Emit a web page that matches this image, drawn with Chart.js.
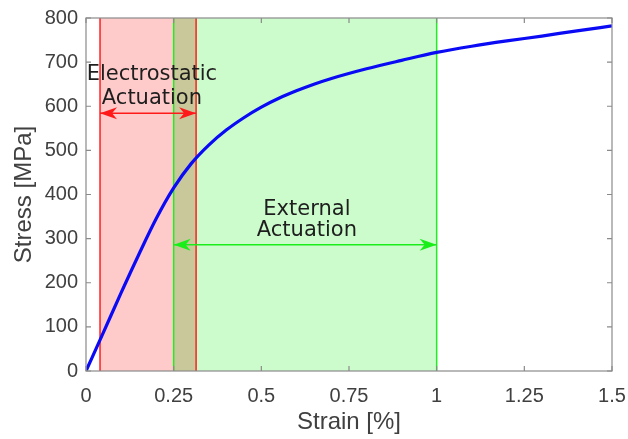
<!DOCTYPE html>
<html>
<head>
<meta charset="utf-8">
<script src="https://cdn.jsdelivr.net/npm/chart.js@4"></script>
<style>
  html, body { margin: 0; padding: 0; background: #fff; }
  #wrap { width: 628px; height: 439px; }
</style>
</head>
<body>
<div id="wrap"><canvas id="grafico"></canvas></div>
<script>
// data
const strain = [0, 0.05, 0.1, 0.15, 0.2, 0.25, 0.3, 0.35, 0.4, 0.45, 0.5, 0.55, 0.6, 0.65, 0.7, 0.8, 0.9, 1.0, 1.1, 1.2, 1.3, 1.4, 1.5];
const stress = [0, 88, 177, 263, 345, 415, 470, 512, 546, 574, 598, 618, 635, 650, 663, 685, 704, 722, 736, 748, 759, 771, 782];
const xTickValues = [0, 0.25, 0.5, 0.75, 1, 1.25, 1.5];
const xTickLabels = ["0", "0.25", "0.5", "0.75", "1", "1.25", "1.5"];
const yTickValues = [0, 100, 200, 300, 400, 500, 600, 700, 800];
const electroRange = [0.04, 0.314];
const externalRange = [0.25, 1.0];
const electroArrowStress = 584;
const externalArrowStress = 286;
const electroLabel = ["Electrostatic", "Actuation"];
const externalLabel = ["External", "Actuation"];

const annotFont = '21px "DejaVu Sans"';

function arrowHead(ctx, x, y, dir, color) {
    ctx.save();
    ctx.fillStyle = color;
    ctx.beginPath();
    ctx.moveTo(x, y);
    ctx.lineTo(x - dir * 17, y - 6);
    ctx.lineTo(x - dir * 12, y);
    ctx.lineTo(x - dir * 17, y + 6);
    ctx.closePath();
    ctx.fill();
    ctx.restore();
}

function doubleArrow(ctx, x1, x2, y, color) {
    ctx.save();
    ctx.strokeStyle = color;
    ctx.lineWidth = 1.5;
    ctx.beginPath();
    ctx.moveTo(x1, y);
    ctx.lineTo(x2, y);
    ctx.stroke();
    ctx.restore();
    arrowHead(ctx, x1, y, -1, color);
    arrowHead(ctx, x2, y, 1, color);
}

const zonas = {
    id: "zonas",
    beforeDatasetsDraw(chart) {
        const { ctx, chartArea: a, scales: { x, y } } = chart;
        const r1 = x.getPixelForValue(electroRange[0]);
        const r2 = x.getPixelForValue(electroRange[1]);
        const g1 = x.getPixelForValue(externalRange[0]);
        const g2 = x.getPixelForValue(externalRange[1]);
        ctx.save();
        ctx.fillStyle = "#ffcaca";
        ctx.fillRect(r1, a.top, r2 - r1, a.bottom - a.top);
        ctx.fillStyle = "#ccfccc";
        ctx.fillRect(g1, a.top, g2 - g1, a.bottom - a.top);
        ctx.fillStyle = "#c8c89a";
        ctx.fillRect(g1, a.top, r2 - g1, a.bottom - a.top);
        ctx.lineWidth = 1.5;
        ctx.strokeStyle = "#ff2020";
        [r1, r2].forEach(px => {
            ctx.beginPath(); ctx.moveTo(px, a.top); ctx.lineTo(px, a.bottom); ctx.stroke();
        });
        ctx.strokeStyle = "#20ee20";
        [g1, g2].forEach(px => {
            ctx.beginPath(); ctx.moveTo(px, a.top); ctx.lineTo(px, a.bottom); ctx.stroke();
        });
        ctx.restore();
    },
    afterDatasetsDraw(chart) {
        const { ctx, chartArea: a, scales: { x, y } } = chart;
        // caja y ticks hacia dentro, estilo matlab
        ctx.save();
        ctx.strokeStyle = "#8a8a8a";
        ctx.lineWidth = 1.2;
        ctx.strokeRect(a.left, a.top, a.right - a.left, a.bottom - a.top);
        ctx.beginPath();
        xTickValues.forEach(v => {
            const px = x.getPixelForValue(v);
            ctx.moveTo(px, a.bottom); ctx.lineTo(px, a.bottom - 5);
            ctx.moveTo(px, a.top); ctx.lineTo(px, a.top + 5);
        });
        yTickValues.forEach(v => {
            const py = y.getPixelForValue(v);
            ctx.moveTo(a.left, py); ctx.lineTo(a.left + 5, py);
            ctx.moveTo(a.right, py); ctx.lineTo(a.right - 5, py);
        });
        ctx.stroke();
        ctx.restore();

        doubleArrow(ctx, x.getPixelForValue(electroRange[0]), x.getPixelForValue(electroRange[1]),
            y.getPixelForValue(electroArrowStress), "#ff1a1a");
        doubleArrow(ctx, x.getPixelForValue(externalRange[0]), x.getPixelForValue(externalRange[1]),
            y.getPixelForValue(externalArrowStress), "#1aee1a");

        ctx.save();
        ctx.fillStyle = "#1e1e1e";
        ctx.font = annotFont;
        ctx.textAlign = "center";
        ctx.textBaseline = "middle";
        ctx.fillText(electroLabel[0], x.getPixelForValue(0.188), y.getPixelForValue(672));
        ctx.fillText(electroLabel[1], x.getPixelForValue(0.188), y.getPixelForValue(618));
        ctx.fillText(externalLabel[0], x.getPixelForValue(0.63), y.getPixelForValue(365));
        ctx.fillText(externalLabel[1], x.getPixelForValue(0.63), y.getPixelForValue(318));
        ctx.restore();
    }
};

const ctx = document.getElementById("grafico").getContext("2d");
new Chart(ctx, {
    type: "line",
    data: {
        datasets: [{
            label: "Stress",
            data: strain.map((s, i) => ({ x: s, y: stress[i] })),
            borderColor: "rgb(10, 10, 245)",
            borderWidth: 3.2,
            pointRadius: 0,
            fill: false,
            cubicInterpolationMode: "monotone",
        }],
    },
    options: {
        responsive: true,
        maintainAspectRatio: false,
        animation: false,
        layout: { padding: { top: 18, right: 16, left: 0, bottom: 0 } },
        plugins: { legend: { display: false }, tooltip: { enabled: false } },
        scales: {
            x: {
                type: "linear",
                min: 0,
                max: 1.5,
                afterBuildTicks(scale) {
                    scale.ticks = xTickValues.map(v => ({ value: v }));
                },
                afterFit(scale) {
                    scale.height = 68;
                    scale.paddingLeft = 0;
                    scale.paddingRight = 0;
                },
                grid: { display: false, drawTicks: false },
                border: { display: false },
                ticks: {
                    padding: 13,
                    maxRotation: 0,
                    color: "#404040",
                    font: { family: "Liberation Sans", size: 20 },
                    callback: (v) => xTickLabels[xTickValues.indexOf(v)],
                },
                title: {
                    display: true,
                    text: "Strain [%]",
                    color: "#404040",
                    font: { family: "Liberation Sans", size: 24 },
                    padding: { top: 0, bottom: 2 },
                },
            },
            y: {
                type: "linear",
                min: 0,
                max: 800,
                afterBuildTicks(scale) {
                    scale.ticks = yTickValues.map(v => ({ value: v }));
                },
                afterFit(scale) {
                    scale.width = 86;
                    scale.paddingTop = 0;
                    scale.paddingBottom = 0;
                },
                grid: { display: false, drawTicks: false },
                border: { display: false },
                ticks: {
                    padding: 8,
                    color: "#404040",
                    font: { family: "Liberation Sans", size: 20 },
                },
                title: {
                    display: true,
                    text: "Stress [MPa]",
                    color: "#404040",
                    font: { family: "Liberation Sans", size: 24 },
                    padding: { top: 10, bottom: 0 },
                },
            },
        },
    },
    plugins: [zonas],
});
</script>
</body>
</html>
